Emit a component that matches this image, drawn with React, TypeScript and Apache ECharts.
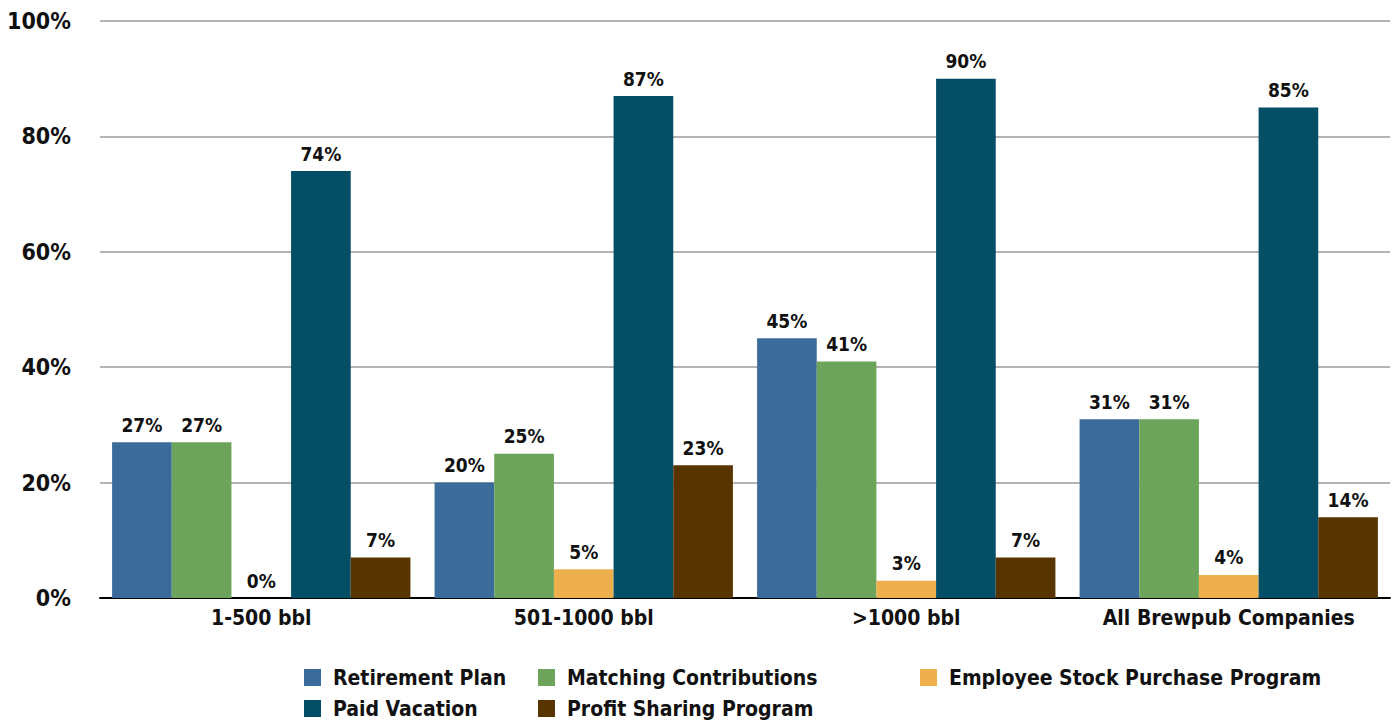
import React, { useEffect, useRef } from "react";
import * as echarts from "echarts";

const categories = ["1-500 bbl", "501-1000 bbl", ">1000 bbl", "All Brewpub Companies"];
const seriesNames = [
  "Retirement Plan",
  "Matching Contributions",
  "Employee Stock Purchase Program",
  "Paid Vacation",
  "Profit Sharing Program",
];
const retirementPlan = [27, 20, 45, 31];
const matchingContributions = [27, 25, 41, 31];
const employeeStock = [0, 5, 3, 4];
const paidVacation = [74, 87, 90, 85];
const profitSharing = [7, 23, 7, 14];
const yTicks = [0, 20, 40, 60, 80, 100];

const colors = ["#3A6B9B", "#6BA45A", "#EDB04D", "#044E66", "#583500"];
const FONT = "'Liberation Sans Narrow', 'DejaVu Sans Condensed', 'Arial Narrow', sans-serif";

export default function App() {
  const ref = useRef<HTMLDivElement>(null);
  useEffect(() => {
    if (!ref.current) return;
    const chart = echarts.init(ref.current, undefined, { renderer: "svg" });
    const values = [retirementPlan, matchingContributions, employeeStock, paidVacation, profitSharing];
    const legendPos = [
      { left: 304, top: 667 },
      { left: 538, top: 667 },
      { left: 920, top: 667 },
      { left: 304, top: 698 },
      { left: 538, top: 698 },
    ];
    chart.setOption({
      animation: false,
      textStyle: { fontFamily: FONT },
      grid: { left: 100, right: 2, top: 21, bottom: 127, containLabel: false },
      legend: seriesNames.map((name, i) => ({
        data: [name],
        left: legendPos[i].left,
        top: legendPos[i].top,
        itemWidth: 17,
        itemHeight: 17,
        icon: "rect",
        itemGap: 0,
        padding: 0,
        textStyle: { fontFamily: FONT, fontWeight: "bold", fontSize: 21, color: "#111", padding: [0, 0, 0, 7] },
      })),
      xAxis: {
        type: "category",
        data: categories,
        axisLine: { show: true, lineStyle: { color: "#000", width: 2 } },
        axisTick: { show: false },
        axisLabel: { interval: 0, fontFamily: FONT, fontWeight: "bold", fontSize: 21, color: "#111", margin: 9 },
      },
      yAxis: {
        type: "value",
        min: yTicks[0],
        max: yTicks[yTicks.length - 1],
        interval: 20,
        axisLine: { show: false },
        axisTick: { show: false },
        splitLine: { lineStyle: { color: "#B3B3B3", width: 2 } },
        axisLabel: {
          fontFamily: FONT,
          fontWeight: "bold",
          fontSize: 23,
          color: "#111",
          margin: 29,
          formatter: (v: number) => v + "%",
        },
      },
      series: values.map((d, i) => ({
        name: seriesNames[i],
        type: "bar",
        data: d,
        barGap: "0%",
        barCategoryGap: "7.5%",
        itemStyle: { color: colors[i] },
        label: {
          show: true,
          position: "top",
          distance: 8,
          fontFamily: FONT,
          fontWeight: "bold",
          fontSize: 19,
          color: "#111",
          formatter: (p: any) => p.value + "%",
        },
      })),
    });
    return () => chart.dispose();
  }, []);
  return <div ref={ref} style={{ width: 1392, height: 725, position: "absolute", left: 0, top: 0 }} />;
}
